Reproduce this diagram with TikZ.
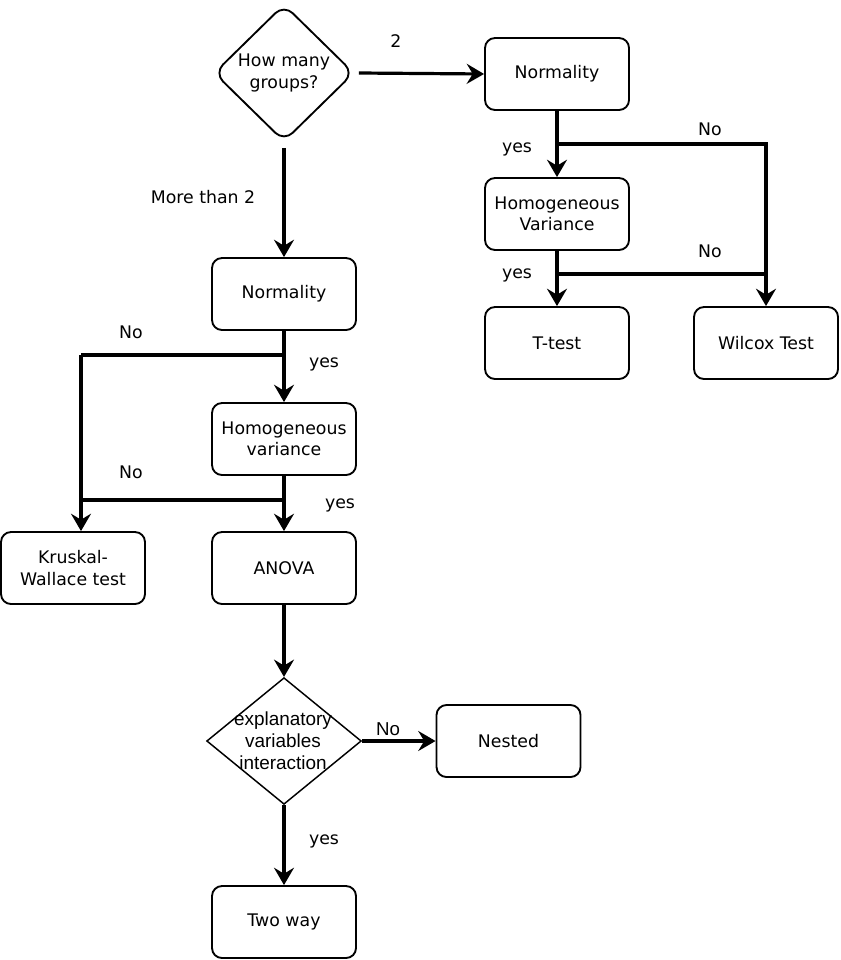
\documentclass[tikz,border=0pt]{standalone}
\usepackage{fontspec}
\setmainfont{DejaVu Sans}
\newfontfamily\arialfont{Liberation Sans}
\usetikzlibrary{positioning,arrows.meta,shapes.geometric}

\begin{document}
\begin{tikzpicture}[
    x=0.75pt, y=-0.75pt,
    box/.style={rectangle, draw, line width=1.4pt, rounded corners=7.5pt, minimum width=108pt, minimum height=54pt, align=center, font=\fontsize{13}{16}\selectfont},
    ask/.style={diamond, draw, line width=1.4pt, rounded corners=9pt, minimum width=105pt, minimum height=103pt, inner sep=0pt, align=center, font=\fontsize{13}{17}\selectfont},
    ask2/.style={diamond, draw, line width=1.1pt, minimum width=116pt, minimum height=95pt, inner sep=0pt},
    arrow/.style={-{Stealth[length=13pt, width=15pt, inset=4.5pt]}, line width=2.4pt},
    line/.style={line width=2.4pt},
    lbl/.style={font=\fontsize{13}{16}\selectfont, inner sep=0pt}
]
\useasboundingbox[fill=white] (0,0) rectangle (840,960);

% decisions
\node[ask] (q1) at (284,73) {How many\\groups?};
\node[ask2] (q2) at (284,741) {};
\node[align=center, inner sep=0pt, font=\arialfont\fontsize{14.2}{16.5}\selectfont] (q2txt) at (283,741) {explanatory\\variables\\interaction};

% two groups
\node[box] (rnorm) at (557,74) {Normality};
\node[box] (rhv) at (557,214) {Homogeneous\\Variance};
\node[box] (ttest) at (557,343) {T-test};
\node[box] (wilcox) at (766,343) {Wilcox Test};

% more than two groups
\node[box] (lnorm) at (284,294) {Normality};
\node[box] (lhv) at (284,439) {Homogeneous\\variance};
\node[box] (kruskal) at (73,568) {Kruskal-\\Wallace test};
\node[box] (anova) at (284,568) {ANOVA};
\node[box] (nested) at (508.5,741) {Nested};
\node[box] (twoway) at (284,922) {Two way};

% junctions
\coordinate (rjn1) at (557,144);
\coordinate (rjn2) at (557,274);
\coordinate (ljn1) at (81,355);
\coordinate (ljn2) at (284,355);
\coordinate (ljn3) at (284,500);

\draw[arrow] ([xshift=3pt]q1.east) -- (rnorm.west);
\draw[arrow] ([yshift=-4pt]q1.south) -- (lnorm.north);

\draw[arrow] (rnorm) -- (rhv);
\draw[arrow] (rhv) -- (ttest);
\draw[arrow] (rjn1) -| (wilcox.north);
\draw[line] (rjn2) -- (rjn2 -| wilcox.north);

\draw[arrow] (lnorm) -- (lhv);
\draw[arrow] (lhv) -- (anova);
\draw[line] (ljn2) -- (ljn1);
\draw[arrow] (ljn1) -- (ljn1 |- kruskal.north);
\draw[line] (ljn3) -- (ljn3 -| ljn1);

\draw[arrow] (anova) -- (q2.north);
\draw[arrow] (q2.east) -- (nested.west);
\draw[arrow] (q2.south) -- (twoway.north);

% labels
\node[lbl] (l2) at (396,41) {2};
\node[lbl] (lmore) at (203,197) {More than 2};
\node[lbl] (lno1) at (710,129) {No};
\node[lbl] (lyes1) at (517,149) {yes};
\node[lbl] (lno2) at (710,251) {No};
\node[lbl] (lyes2) at (517,275) {yes};
\node[lbl] (lno3) at (131,332) {No};
\node[lbl] (lyes3) at (324,364) {yes};
\node[lbl] (lno4) at (131,472) {No};
\node[lbl] (lyes4) at (340,505) {yes};
\node[lbl, font=\arialfont\fontsize{14}{16}\selectfont] (lno5) at (388,729) {No};
\node[lbl] (lyes5) at (324,841) {yes};
\end{tikzpicture}
\end{document}
